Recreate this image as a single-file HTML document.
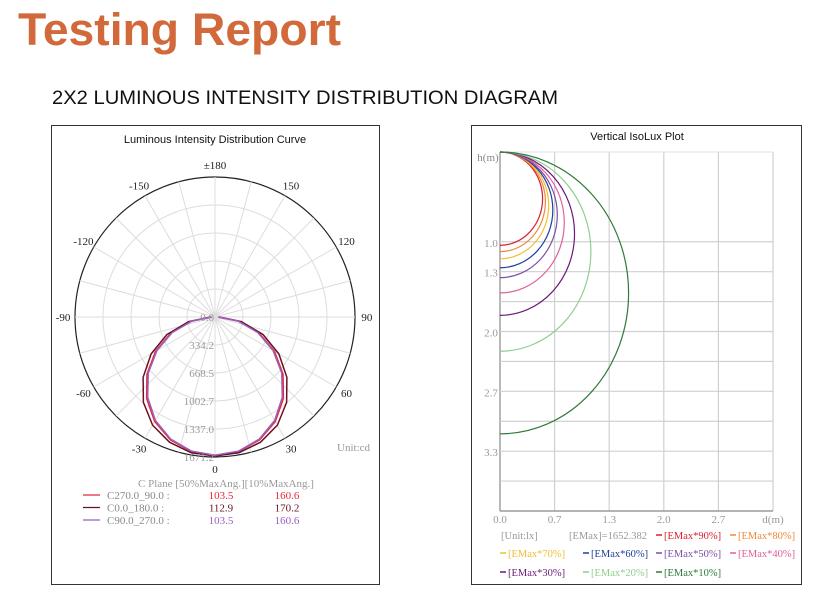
<!DOCTYPE html>
<html><head><meta charset="utf-8"><style>
body{margin:0;background:#fff;width:832px;height:601px;overflow:hidden}
svg{display:block;font-family:"Liberation Sans",sans-serif}
.s{font-family:"Liberation Serif",serif}
</style></head><body>
<svg id="root" width="832" height="601" viewBox="0 0 832 601">
<text x="18" y="45" font-size="45" font-weight="bold" fill="#d2693a" textLength="323" lengthAdjust="spacingAndGlyphs">Testing Report</text>
<text x="52" y="104" font-size="19" fill="#111" textLength="506" lengthAdjust="spacingAndGlyphs">2X2 LUMINOUS INTENSITY DISTRIBUTION DIAGRAM</text>

<g>
<rect x="51.5" y="125.5" width="328" height="459" fill="#fff" stroke="#333"/>
<text x="215" y="143" font-size="11" text-anchor="middle" fill="#111">Luminous Intensity Distribution Curve</text>
<g id="polarGrid"></g>
<g id="polarCurves"></g>
<g id="polarLabels" class="s" font-size="11" fill="#222"></g>
<text x="337" y="451" class="s" font-size="11" fill="#999">Unit:cd</text>
<g id="polarLegend" class="s" font-size="11"></g>
</g>

<g>
<rect x="471.5" y="125.5" width="330" height="459" fill="#fff" stroke="#333"/>
<text x="637" y="140" font-size="11" text-anchor="middle" fill="#111">Vertical IsoLux Plot</text>
<g id="isoGrid"></g>
<g id="isoCurves"></g>
<g id="isoLabels" class="s" font-size="11" fill="#999"></g>
<g id="isoLegend" class="s" font-size="10.5"></g>
</g>
</svg>
<script>
// ---- polar data ----
const polarAngles = [0,10,20,30,40,50,60,70,80,90];
const seriesC270 = [1650,1630,1560,1440,1270,1060,820,560,290,40];
const seriesC0 = [1660,1645,1590,1490,1330,1120,880,610,320,50];
const seriesC90 = [1650,1625,1550,1425,1250,1040,800,545,280,40];
const ringLabels = ["0.0","334.2","668.5","1002.7","1337.0","1671.2"];
const angleLabels = ["0","30","60","90","120","150","±180","-150","-120","-90","-60","-30"];
const legendNames = ["C270.0_90.0 :","C0.0_180.0  :","C90.0_270.0 :"];
const legend50 = ["103.5","112.9","103.5"];
const legend10 = ["160.6","170.2","160.6"];
// ---- isolux data ----
const isoLevels = ["[EMax*90%]","[EMax*80%]","[EMax*70%]","[EMax*60%]","[EMax*50%]","[EMax*40%]","[EMax*30%]","[EMax*20%]","[EMax*10%]"];
const isoDepths = [1.04,1.11,1.19,1.29,1.40,1.57,1.82,2.22,3.14];
const xTicks = ["0.0","0.7","1.3","2.0","2.7"];
const yTicks = ["1.0","1.3","2.0","2.7","3.3"];
const yTickVals = [1.0,1.333,2.0,2.667,3.333];

const NS="http://www.w3.org/2000/svg";
function mk(tag,attrs,parent){const e=document.createElementNS(NS,tag);for(const k in attrs)e.setAttribute(k,attrs[k]);parent.appendChild(e);return e;}

// polar
const cx=215,cy=317,R=140,Imax=1671.2;
const rs=v=>v/Imax*R;
const pt=(deg,v)=>[cx+rs(v)*Math.sin(deg*Math.PI/180), cy+rs(v)*Math.cos(deg*Math.PI/180)];
const pg=document.getElementById('polarGrid');
for(let i=1;i<=5;i++){
  const c=mk('circle',{cx:cx,cy:cy,r:R*i/5,fill:'none',stroke:i===5?'#222':'#ddd','stroke-width':i===5?1.2:1},pg);
  
  
}
for(let a=0;a<360;a+=15){
  const [x,y]=pt(a,Imax);
  const l=mk('line',{x1:cx,y1:cy,x2:x,y2:y,stroke:'#ddd'},pg);
  
  
}
const pl=document.getElementById('polarLabels');
ringLabels.forEach((t,i)=>{
  const e=mk('text',{x:cx-1,y:cy+R*i/5+4,'text-anchor':'end',fill:'#999'},pl);
  e.textContent=t;
  
  
});
angleLabels.forEach((t,i)=>{
  const a=i*30; const [x,y]=pt(a,Imax*1.085);
  const e=mk('text',{x:x,y:y+4,'text-anchor':'middle'},pl);
  e.textContent=t;
  
  
});
const colors=['#e8283a','#6b1020','#9a5fc0'];
const pc=document.getElementById('polarCurves');
[seriesC270,seriesC0,seriesC90].forEach((s,si)=>{
  const pts=[];
  for(let i=polarAngles.length-1;i>=0;i--)pts.push(pt(-polarAngles[i],s[i]));
  for(let i=1;i<polarAngles.length;i++)pts.push(pt(polarAngles[i],s[i]));
  const p=mk('polyline',{points:pts.map(q=>q.join(',')).join(' '),fill:'none',stroke:colors[si],'stroke-width':1.5,'stroke-linejoin':'round'},pc);
  
  
});
const lg=document.getElementById('polarLegend');
const hdr=mk('text',{x:138,y:487,fill:'#999'},lg);hdr.textContent='C Plane  [50%MaxAng.][10%MaxAng.]';


legendNames.forEach((n,i)=>{
  const y=499+i*12.5;
  const l=mk('line',{x1:83,y1:y-4,x2:100,y2:y-4,stroke:colors[i],'stroke-width':1.3},lg);
  
  
  const t=mk('text',{x:107,y:y,fill:'#888'},lg);t.textContent=n;
  
  
  const v1=mk('text',{x:221,y:y,fill:colors[i],'text-anchor':'middle'},lg);v1.textContent=legend50[i];
  
  
  const v2=mk('text',{x:287,y:y,fill:colors[i],'text-anchor':'middle'},lg);v2.textContent=legend10[i];
  
  
});

// isolux
const x0=500,x1=773,y0=152,y1=511;
const sx=v=>x0+v*(x1-x0)/3.333, sy=v=>y0+v*(y1-y0)/4.0;
const ig=document.getElementById('isoGrid');
for(let i=0;i<=5;i++){
  const x=sx(i*3.333/5);
  const l=mk('line',{x1:x,y1:y0,x2:x,y2:y1,stroke:i===0?'#888':'#d0d0d0','stroke-width':1.2},ig);
  
  
}
for(let i=0;i<=9;i++){
  const y=sy(1+i/3);
  const l=mk('line',{x1:x0,y1:y,x2:x1,y2:y,stroke:i===9?'#888':'#d0d0d0','stroke-width':1.2},ig);
  
  
}
mk('line',{x1:x0,y1:y0,x2:x1,y2:y0,stroke:'#e0e0e0'},ig);
const isoColors=['#d8202c','#f0883a','#f0c030','#1f3f9a','#7b4fa8','#e0609a','#6a1b7a','#8fcf8f','#2e7a3a'];
const ic=document.getElementById('isoCurves');
isoDepths.forEach((D,i)=>{
  const r=D/2;
  const rx=sx(r)-x0, ry=sy(r)-y0;
  const p=mk('path',{d:`M${x0},${y0} A${rx},${ry} 0 0 1 ${x0},${sy(D)}`,fill:'none',stroke:isoColors[i],'stroke-width':1.2},ic);
  
  
});
const il=document.getElementById('isoLabels');
xTicks.forEach((t,i)=>{
  const e=mk('text',{x:sx(i*3.333/5),y:523,'text-anchor':'middle'},il);e.textContent=t;
  
  
});
const dl=mk('text',{x:x1,y:523,'text-anchor':'middle'},il);dl.textContent='d(m)';


const hl=mk('text',{x:488,y:161,'text-anchor':'middle',fill:'#888'},il);hl.textContent='h(m)';


yTicks.forEach((t,i)=>{
  const e=mk('text',{x:491,y:sy(yTickVals[i])+5,'text-anchor':'middle'},il);e.textContent=t;
  
  
});
const il2=document.getElementById('isoLegend');
const u=mk('text',{x:501,y:539,fill:'#999'},il2);u.textContent='[Unit:lx]';


const em=mk('text',{x:569,y:539,fill:'#999'},il2);em.textContent='[EMax]=1652.382';


const slots=[[656,539],[730,539],[500,557],[583,557],[656,557],[730,557],[500,576],[583,576],[656,576]];
isoLevels.forEach((t,i)=>{
  const [x,y]=slots[i];
  const l=mk('line',{x1:x,y1:y-4,x2:x+6,y2:y-4,stroke:isoColors[i],'stroke-width':1.5},il2);
  
  
  const e=mk('text',{x:x+8,y:y,fill:isoColors[i]},il2);e.textContent=t;
  
  
});
</script>
</body></html>
